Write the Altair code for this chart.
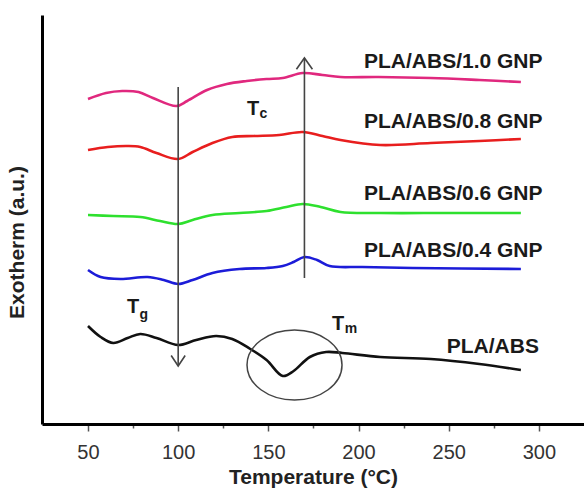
import altair as alt
import pandas as pd

# ---- data (temperature in °C, exotherm in arbitrary units) ----
t_10 = [50, 60, 69, 78, 86, 99, 105, 116, 127, 138, 149, 158, 169, 180, 190, 211, 240, 267, 290]
v_10 = [325, 331, 333, 332, 326, 318, 323, 334, 340, 343, 345, 346, 351, 349, 347, 347, 346, 344, 342]

t_08 = [50, 61, 72, 79, 88, 100, 108, 119, 130, 142, 156, 169, 180, 190, 212, 240, 267, 290]
v_08 = [274, 277, 278, 277, 271, 265, 272, 281, 287, 288, 289, 292, 288, 284, 279, 281, 283, 285]

t_06 = [50, 64, 79, 90, 100, 108, 119, 134, 149, 160, 169, 179, 190, 212, 249, 290]
v_06 = [209, 208, 207, 203, 200, 204, 209, 211, 213, 217, 220, 217, 212, 211, 211, 211]

t_04 = [50, 57, 68, 83, 92, 100, 108, 119, 134, 149, 158, 164, 170, 177, 184, 202, 230, 290]
v_04 = [154, 147, 145, 147, 144, 140, 144, 151, 155, 156, 158, 162, 167, 164, 158, 157, 156, 155]

t_00 = [50, 57, 64, 72, 79, 88, 100, 110, 121, 130, 140, 149, 158, 164, 173, 182, 191, 212, 240, 267, 290]
v_00 = [98, 87, 81, 86, 90, 86, 79, 84, 88, 85, 75, 64, 48, 53, 67, 72, 71, 67, 65, 60, 54]

series_names = ["PLA/ABS/1.0 GNP", "PLA/ABS/0.8 GNP", "PLA/ABS/0.6 GNP", "PLA/ABS/0.4 GNP", "PLA/ABS"]
series_colors = ["#e0287e", "#e81e1e", "#2ee02e", "#1c1cd8", "#111111"]

x_ticks = [50, 75, 100, 125, 150, 175, 200, 225, 250, 275, 300]

# ---- annotation constants ----
label_x = [302, 302, 302, 302, 300]
label_y = [356, 296, 224, 167, 71]

rows = []
for name, ts, vs in zip(series_names, [t_10, t_08, t_06, t_04, t_00], [v_10, v_08, v_06, v_04, v_00]):
    for t, v in zip(ts, vs):
        rows.append({"series": name, "T": t, "v": v})
df = pd.DataFrame(rows)

xscale = alt.Scale(domain=[24.5, 325], nice=False, zero=False)
yscale = alt.Scale(domain=[0, 409], nice=False, zero=False)
FONT = "Liberation Sans"

lines = alt.Chart(df).mark_line(strokeWidth=2.6, interpolate="catmull-rom").encode(
    x=alt.X("T:Q", scale=xscale,
            axis=alt.Axis(values=x_ticks, title="Temperature (°C)",
                          labelExpr="datum.value % 50 === 0 ? datum.label : ''",
                          grid=False, domainColor="black", domainWidth=3,
                          tickColor="#555555", tickWidth=1.5,
                          tickSize={"condition": {"test": "datum.value % 50 === 0", "value": 7}, "value": 4},
                          labelFont=FONT, labelFontSize=20, labelColor="#333333", labelPadding=11,
                          titleFont=FONT, titleFontSize=21, titleFontWeight="bold", titleColor="#222222",
                          titlePadding=4)),
    y=alt.Y("v:Q", scale=yscale,
            axis=alt.Axis(title="Exotherm (a.u.)", ticks=False, labels=False, grid=False,
                          domainColor="black", domainWidth=3,
                          titleFont=FONT, titleFontSize=21, titleFontWeight="bold", titleColor="#222222",
                          titleAngle=-90, titleAlign="center", titleBaseline="middle",
                          titleX=-25, titleY=227)),
    color=alt.Color("series:N", scale=alt.Scale(domain=series_names, range=series_colors), legend=None),
    detail="series:N",
)

lab_df = pd.DataFrame({"name": series_names, "x": label_x, "y": label_y})
labels = alt.Chart(lab_df).mark_text(font=FONT, fontSize=21, fontWeight="bold", align="right",
                                     baseline="alphabetic", color="#1a1a1a").encode(
    x=alt.X("x:Q", scale=xscale), y=alt.Y("y:Q", scale=yscale), text="name:N")

# arrows
arrow_df = pd.DataFrame({"x": [100, 170], "y1": [337, 146], "y2": [58, 366]})
arrows = alt.Chart(arrow_df).mark_rule(color="#444444", strokeWidth=1.6).encode(
    x=alt.X("x:Q", scale=xscale), y=alt.Y("y1:Q", scale=yscale), y2="y2:Q")

down_head = alt.Chart(pd.DataFrame({"x": [100], "y": [58]})).mark_point(
    shape="M-1,-1.5L0,0L1,-1.5", size=196, filled=False, color="#444444", strokeWidth=1.6, opacity=1
).encode(x=alt.X("x:Q", scale=xscale), y=alt.Y("y:Q", scale=yscale))
up_head = alt.Chart(pd.DataFrame({"x": [170], "y": [366]})).mark_point(
    shape="M-1,1.4L0,0L1,1.4", size=256, filled=False, color="#444444", strokeWidth=1.6, opacity=1
).encode(x=alt.X("x:Q", scale=xscale), y=alt.Y("y:Q", scale=yscale))

ellipse = alt.Chart(pd.DataFrame({"x": [164.5], "y": [59]})).mark_point(
    shape="M-1,0A1,0.737,0,1,0,1,0A1,0.737,0,1,0,-1,0Z", size=9025, filled=False,
    color="#444444", strokeWidth=1.5, opacity=1
).encode(x=alt.X("x:Q", scale=xscale), y=alt.Y("y:Q", scale=yscale))

# T symbols with subscripts
main_df = pd.DataFrame({"x": [71.6, 138.1, 185.3], "y": [111, 309, 94], "t": ["T", "T", "T"]})
sub_df = pd.DataFrame({"x": [78.6, 145.1, 192.3], "y": [105, 306, 91], "t": ["g", "c", "m"]})
tmain = alt.Chart(main_df).mark_text(font=FONT, fontSize=20, fontWeight="bold", align="left",
                                     baseline="alphabetic", color="#1a1a1a").encode(
    x=alt.X("x:Q", scale=xscale), y=alt.Y("y:Q", scale=yscale), text="t:N")
tsub = alt.Chart(sub_df).mark_text(font=FONT, fontSize=14, fontWeight="bold", align="left",
                                   baseline="alphabetic", color="#1a1a1a").encode(
    x=alt.X("x:Q", scale=xscale), y=alt.Y("y:Q", scale=yscale), text="t:N")

chart = alt.layer(lines, arrows, down_head, up_head, ellipse, labels, tmain, tsub).properties(
    width=542, height=409,
    autosize=alt.AutoSizeParams(type="none"),
    padding={"left": 42, "top": 15, "right": 0, "bottom": 65},
    background="white",
).configure_view(stroke=None)

chart.save("out.html", embed_options={"renderer": "svg", "actions": False})
